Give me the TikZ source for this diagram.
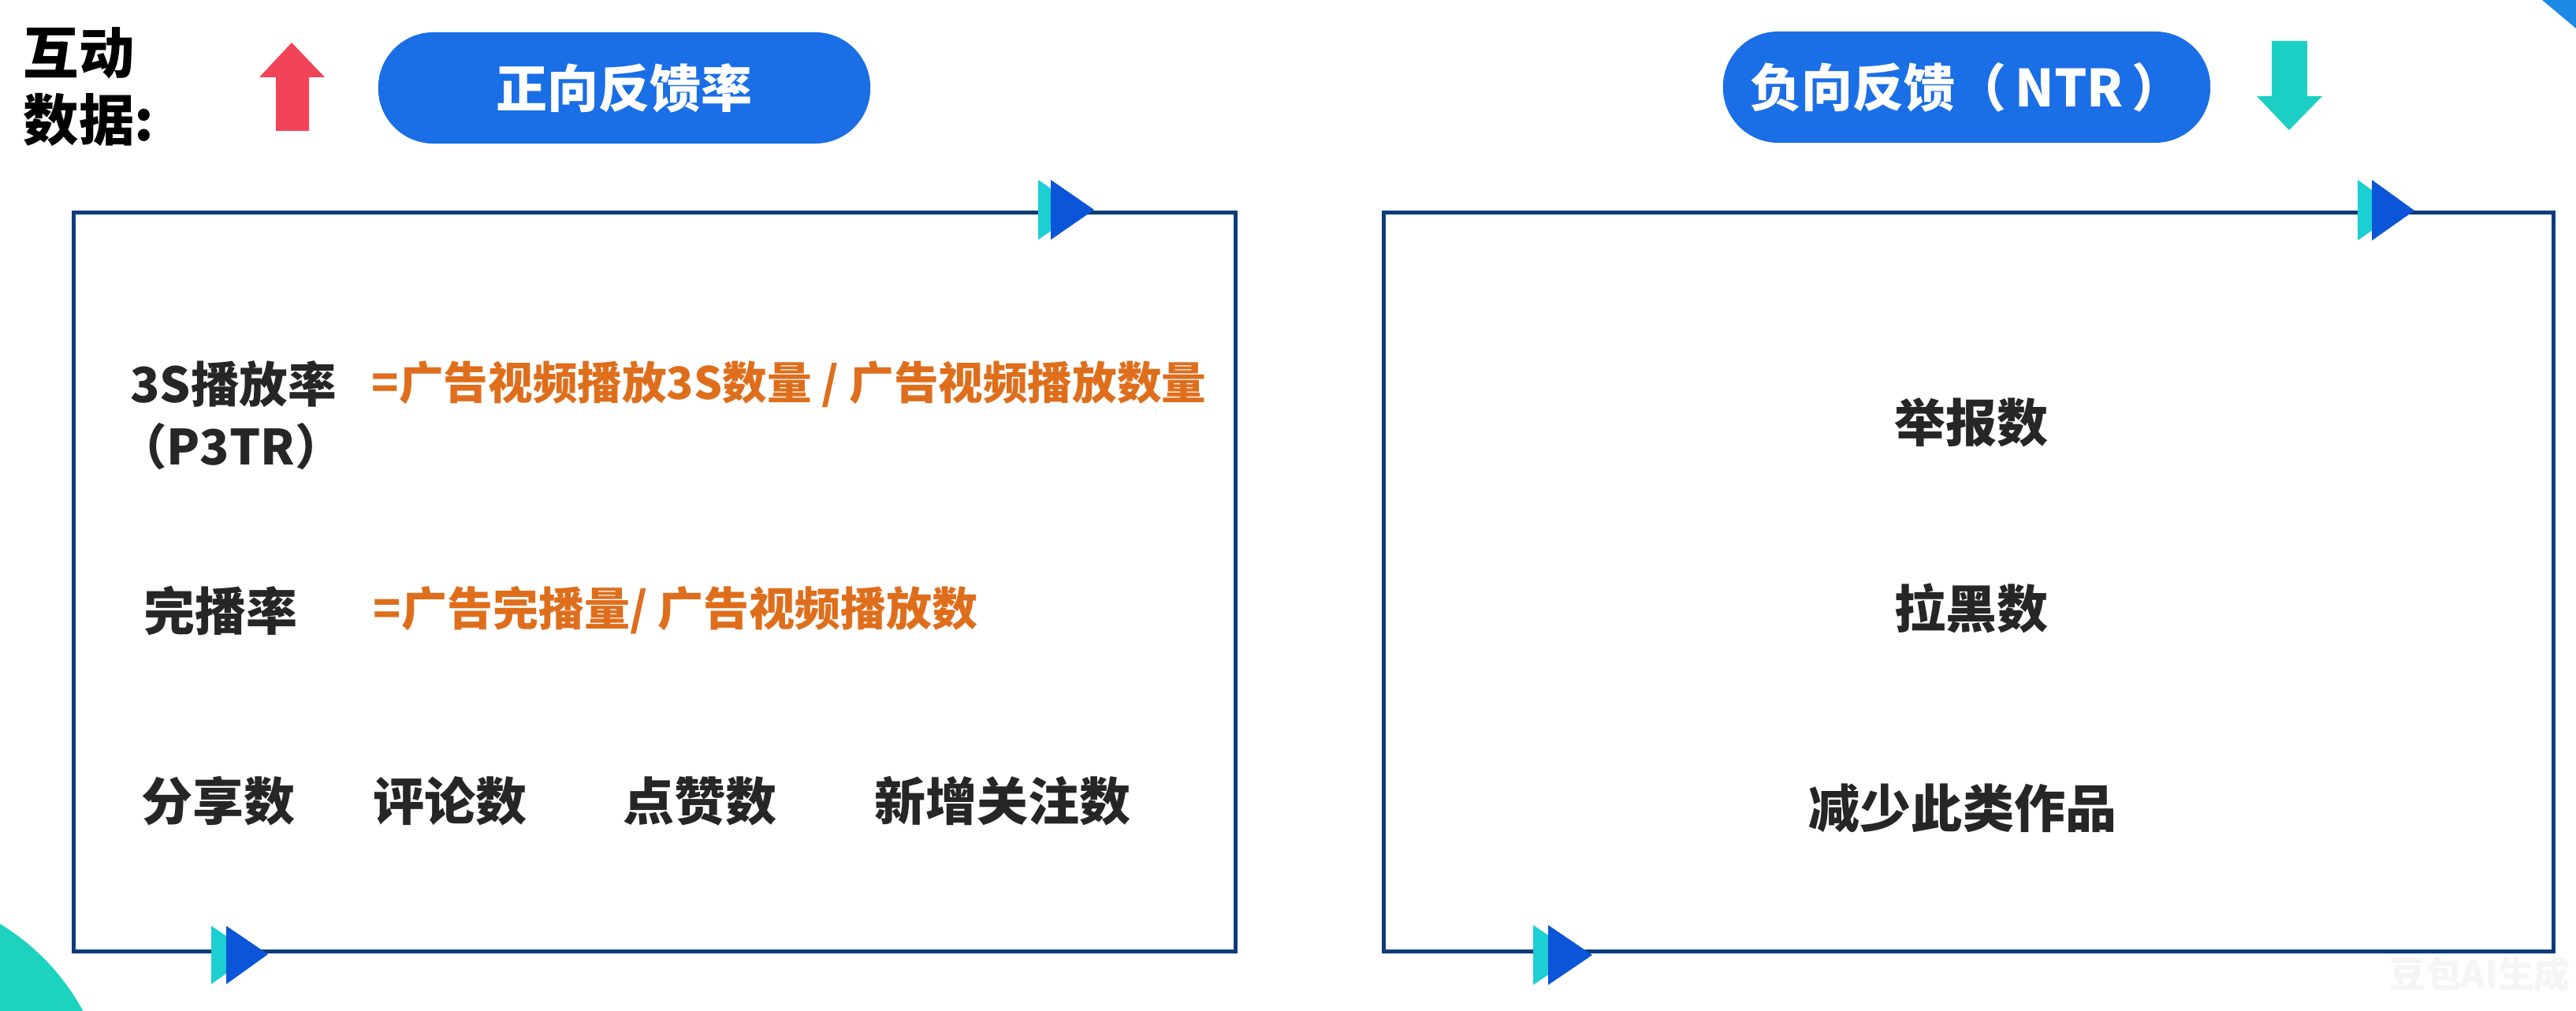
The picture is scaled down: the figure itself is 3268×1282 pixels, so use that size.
\documentclass[tikz,border=0pt]{standalone}
\usepackage{fontspec}
\setmainfont{Noto Sans CJK SC}
\definecolor{pillblue}{HTML}{1A6EE6}
\definecolor{framecol}{HTML}{0E3C7A}
\definecolor{tribl}{HTML}{0A55D8}
\definecolor{tritl}{HTML}{1CCFD3}
\definecolor{redarrow}{HTML}{F24459}
\definecolor{tealarrow}{HTML}{1CCFC4}
\definecolor{orangetxt}{HTML}{DF6E1C}
\definecolor{circteal}{HTML}{1DD3C0}
\definecolor{cornerblue}{HTML}{1E88E5}
\tikzset{
  hdr/.style={font=\bfseries\fontsize{20pt}{24pt}\selectfont, text=black, inner sep=0, anchor=west},
  lbl/.style={font=\bfseries\fontsize{18.5pt}{22pt}\selectfont, text=black!85, inner sep=0},
  lblsmall/.style={font=\bfseries\fontsize{17.5pt}{21pt}\selectfont, text=black!85, inner sep=0},
  formula/.style={font=\bfseries\fontsize{16.5pt}{20pt}\selectfont, text=orangetxt, inner sep=0, anchor=west},
  formulasmall/.style={formula, font=\bfseries\fontsize{16.1pt}{20pt}\selectfont},
  pill/.style={fill=pillblue, rounded corners=0.7cm, minimum height=1.41cm, text=white,
     font=\bfseries\fontsize{18.5pt}{22pt}\selectfont, inner sep=0},
  frame/.style={draw=framecol, line width=1.5pt, minimum height=9.36cm, inner sep=0},
  tri/.style={fill=tribl},
  tritwo/.style={fill=tritl},
}
\begin{document}
\begin{tikzpicture}[x=0.01cm, y=-0.01cm]
\useasboundingbox (0,0) rectangle (3268,1282);
\fill[white] (0,0) rectangle (3268,1282);
% decorative corners
\begin{scope}
\clip (0,0) rectangle (3268,1282);
\fill[circteal] (-150,1420) circle[radius=2.9cm];
\fill[cornerblue] (3225,0) -- (3268,36) -- (3268,0) -- cycle;
\end{scope}
% header
\node[hdr] (h1) at (29,67) {互动};
\node[hdr] (h2) at (29,152) {数据:};
% red up arrow
\fill[redarrow] (370,54) -- (412,98) -- (392,98) -- (392,166) -- (350,166) -- (350,98) -- (329,98) -- cycle;
% teal down arrow
\fill[tealarrow] (2904,165) -- (2946,122) -- (2927,122) -- (2927,52) -- (2882,52) -- (2882,122) -- (2863,122) -- cycle;
% pills
\node[pill, minimum width=6.24cm] (p1) at (792,111.5) {正向反馈率};
\node[pill, minimum width=6.18cm] (p2) at (2495,110.5) {负向反馈（\,NTR\,）};
% frames
\node[frame, minimum width=14.73cm] (b1) at (830.5,738) {};
\node[frame, minimum width=14.83cm] (b2) at (2497.5,738) {};
% triangles on frames
\fill[tritwo] (1317,228) -- (1317,304) -- (1372,266) -- cycle;
\fill[tri] (1333,228) -- (1333,304) -- (1388,266) -- cycle;
\fill[tritwo] (268,1174) -- (268,1248) -- (321,1210) -- cycle;
\fill[tri] (287,1174) -- (287,1248) -- (340,1210) -- cycle;
\fill[tritwo] (2991,228) -- (2991,305) -- (3045,267) -- cycle;
\fill[tri] (3009,228) -- (3009,305) -- (3063,267) -- cycle;
\fill[tritwo] (1945,1173) -- (1945,1249) -- (2001,1211) -- cycle;
\fill[tri] (1964,1173) -- (1964,1249) -- (2020,1211) -- cycle;
% left box texts
\node[lblsmall] (t1) at (296,487) {3S播放率};
\node[lblsmall] (t1b) at (293,566) {（P3TR）};
\node[formulasmall] (f1) at (471,487) {=广告视频播放3S数量 / 广告视频播放数量};
\node[lbl] (t2) at (280,774) {完播率};
\node[formula] (f2) at (473,774) {=广告完播量/ 广告视频播放数};
\node[lbl] (r1) at (277,1016) {分享数};
\node[lbl] (r2) at (571,1016) {评论数};
\node[lbl] (r3) at (888,1016) {点赞数};
\node[lbl] (r4) at (1272,1016) {新增关注数};
% right box texts
\node[lbl] (n1) at (2501,536) {举报数};
\node[lbl] (n2) at (2501,771) {拉黑数};
\node[lbl] (n3) at (2490,1025) {减少此类作品};
% watermark
\node[font=\bfseries\fontsize{13pt}{15pt}\selectfont, text=black!4, inner sep=0] (wm) at (3146,1235) {豆包AI生成};
\end{tikzpicture}
\end{document}
